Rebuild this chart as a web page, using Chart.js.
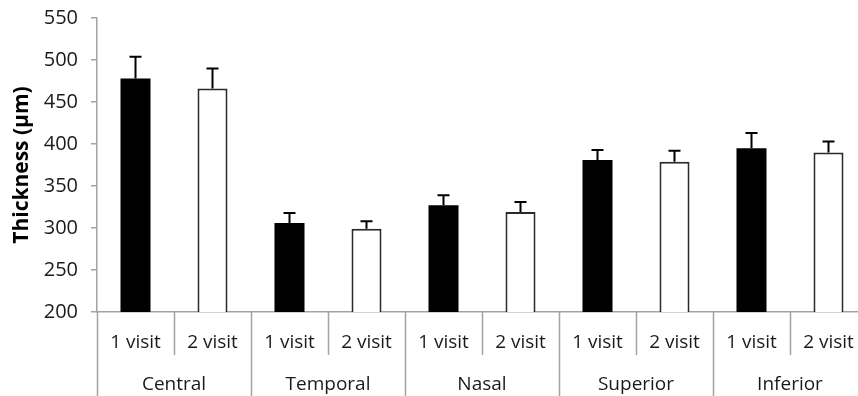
<!DOCTYPE html>
<html>
<head>
<meta charset="utf-8">
<script src="https://cdn.jsdelivr.net/npm/chart.js@4"></script>
<style>
  html, body { margin: 0; padding: 0; background: #fff; overflow: hidden; }
  #wrap { width: 870px; height: 396px; }
</style>
</head>
<body>
<div id="wrap"><canvas id="thicknessChart" width="870" height="396"></canvas></div>
<script>
const regions = ["Central", "Temporal", "Nasal", "Superior", "Inferior"];
const visits = ["1 visit", "2 visit"];
const visit1 = [478, 306, 327, 381, 395];
const visit2 = [466, 299, 319, 379, 390];
const visit1Err = [26, 12, 12, 12, 18];
const visit2Err = [24, 9, 12, 13, 13];
const yTicks = [200, 250, 300, 350, 400, 450, 500, 550];

const FONT = "'Open Sans', 'DejaVu Sans', sans-serif";
const AXIS_GREY = "#a3a3a3";
const TEXT = "#1a1a1a";

// flatten groups into 10 bars: region x visit
const labels = [];
const values = [];
const errors = [];
const colors = [];
regions.forEach((r, i) => {
  labels.push(visits[0], visits[1]);
  values.push(visit1[i], visit2[i]);
  errors.push(visit1Err[i], visit2Err[i]);
  colors.push("#000000", "#ffffff");
});

const errorBars = {
  id: "errorBars",
  afterDatasetsDraw(chart) {
    const { ctx, scales: { y } } = chart;
    const meta = chart.getDatasetMeta(0);
    ctx.save();
    ctx.strokeStyle = "#000";
    ctx.lineWidth = 2;
    meta.data.forEach((bar, i) => {
      const top = y.getPixelForValue(values[i]);
      const end = y.getPixelForValue(values[i] + errors[i]);
      ctx.beginPath();
      ctx.moveTo(bar.x, top);
      ctx.lineTo(bar.x, end);
      ctx.moveTo(bar.x - 6, end);
      ctx.lineTo(bar.x + 6, end);
      ctx.stroke();
    });
    ctx.restore();
  }
};

const groupedAxis = {
  id: "groupedAxis",
  afterDraw(chart) {
    const { ctx, scales: { x } } = chart;
    const step = (x.right - x.left) / labels.length;
    const base = x.top;
    ctx.save();
    ctx.strokeStyle = AXIS_GREY;
    ctx.lineWidth = 1.5;
    for (let i = 0; i <= labels.length; i++) {
      const bx = Math.round(x.left + i * step) + 0.5;
      const len = i % 2 === 0 ? chart.height - base : 43;
      ctx.beginPath();
      ctx.moveTo(bx, base);
      ctx.lineTo(bx, base + len);
      ctx.stroke();
    }
    ctx.fillStyle = TEXT;
    ctx.font = "19px " + FONT;
    ctx.textAlign = "center";
    ctx.textBaseline = "middle";
    labels.forEach((lab, i) => {
      ctx.fillText(lab, x.getPixelForValue(i), base + 31);
    });
    regions.forEach((r, g) => {
      const cx = x.left + (g * 2 + 1) * step;
      ctx.fillText(r, cx, base + 73);
    });
    ctx.restore();
  }
};

new Chart(document.getElementById("thicknessChart"), {
  type: "bar",
  data: {
    labels: labels,
    datasets: [{
      data: values,
      backgroundColor: colors,
      borderColor: "#2a2a2a",
      borderWidth: (c) => (c.dataIndex % 2 === 1 ? 2 : 0),
      barPercentage: 0.39,
      categoryPercentage: 1.0
    }]
  },
  options: {
    responsive: false,
    animation: false,
    layout: { padding: { top: 18, right: 3, left: 0, bottom: 0 } },
    plugins: {
      legend: { display: false },
      tooltip: { enabled: false }
    },
    scales: {
      x: {
        grid: { display: false },
        ticks: { display: false },
        border: { color: AXIS_GREY, width: 1.5 },
        afterFit: (scale) => { scale.height = 84; }
      },
      y: {
        min: 200,
        max: 550,
        afterBuildTicks: (scale) => { scale.ticks = yTicks.map((v) => ({ value: v })); },
        grid: { drawOnChartArea: false, tickLength: 6, color: AXIS_GREY, lineWidth: 1.5 },
        border: { color: AXIS_GREY, width: 1.5 },
        ticks: { color: TEXT, font: { family: FONT, size: 20 }, padding: 13 },
        title: {
          display: true,
          text: "Thickness (µm)",
          color: "#000",
          font: { family: FONT, size: 21, weight: "bold" },
          padding: { top: 9, bottom: 0 }
        },
        afterFit: (scale) => {
          scale.width = 97;
          scale.paddingTop = 0;
          scale.paddingBottom = 0;
        }
      }
    }
  },
  plugins: [errorBars, groupedAxis]
});
</script>
</body>
</html>
